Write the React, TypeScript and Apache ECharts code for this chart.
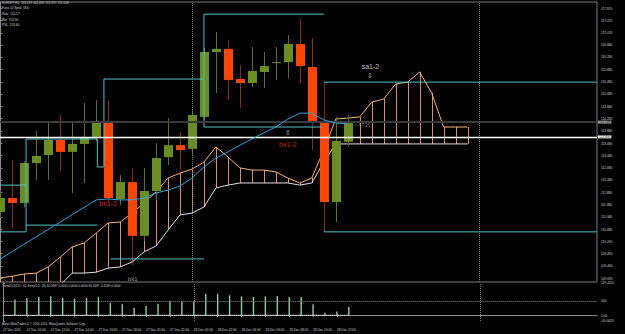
import React, { useEffect, useRef } from "react";
import * as echarts from "echarts";

// ---------- texts ----------
const HEADER_LINES = [
  "EURJPY,H1  113.529 114.409 113.372 114.168",
  "Pass 14 Sprd: 18.6",
  "Now  114.17",
  "Bbr  113.90",
  "PSL  113.60",
];
const SUB_TITLE =
  "TrendCCI(CCI: 50, EntryCCI: 26) 60.2487 0.0000 0.0000 0.0000 60.2487 -4.2099 0.0000";
const COPYRIGHT = "Alpari MetaTrader 4, © 2001-2011, MetaQuotes Software Corp.";

// ---------- axes ----------
const TIME_TICKS = [0, 2, 4, 6, 8, 10, 12, 14, 16, 18, 20, 22, 24, 26, 28];
const TIME_LABELS = [
  "27 Dec 2011", "27 Dec 10:00", "27 Dec 12:00", "27 Dec 14:00", "27 Dec 16:00",
  "27 Dec 18:00", "27 Dec 20:00", "27 Dec 22:00", "28 Dec 00:00", "28 Dec 02:00",
  "28 Dec 04:00", "28 Dec 06:00", "28 Dec 08:00", "28 Dec 10:00", "28 Dec 12:00",
];
const PRICE_TICKS = [
  117.87, 117.47, 117.07, 116.68, 116.28, 115.88, 115.48, 115.08, 114.68, 114.28,
  113.88, 113.48, 113.08, 112.68, 112.28, 111.88, 111.48, 111.08, 110.68, 110.29,
  109.89, 109.49, 109.09,
];
const CCI_TICKS = [229.411, 100, 0, -40.0023];
const CCI_TICK_LABELS = ["229.4110", "100", "0.00", "-40.0023"];

// ---------- candles (H1 bars, index 0 = 27 Dec 08:00) ----------
const OPEN = [
  111.246, 111.7, 111.54, 112.84, 113.1, 113.59, 113.2, 113.46, 113.69, 114.17,
  111.67, 112.22, 110.47, 111.93, 113.03, 113.42, 113.3, 114.34, 116.45, 116.55,
  115.57, 115.44, 115.8, 116.09, 116.12, 116.71, 115.96, 114.14, 111.57, 113.529,
];
const CLOSE = [
  111.701, 111.54, 112.84, 113.07, 113.59, 113.2, 113.46, 113.65, 114.17, 111.7,
  112.22, 110.47, 111.93, 113.0, 113.42, 113.26, 114.4, 116.45, 116.55, 115.54,
  115.44, 115.83, 115.99, 116.12, 116.71, 115.99, 114.17, 111.57, 113.56, 114.168,
];
const LOW = [
  111.05, 110.725, 111.4, 112.29, 112.29, 112.61, 111.86, 112.19, 113.55, 111.6,
  111.47, 109.59, 110.3, 111.64, 112.77, 112.61, 113.1, 114.24, 115.12, 114.89,
  114.63, 115.31, 115.28, 115.54, 115.6, 115.44, 113.26, 110.6, 110.92, 113.372,
];
const HIGH = [
  111.96, 112.94, 112.9, 113.88, 114.17, 114.4, 114.17, 114.79, 114.89, 114.89,
  112.45, 112.68, 112.68, 113.49, 114.3, 113.85, 114.56, 116.58, 117.1, 116.84,
  116.03, 116.61, 116.45, 116.61, 117.0, 117.52, 116.9, 115.47, 114.34, 114.409,
];

// ---------- indicators ----------
const MA = [
  109.72, 109.96, 110.2, 110.44, 110.68, 110.92, 111.16, 111.4, 111.64, 111.67,
  111.64, 111.64, 111.7, 111.86, 111.96, 112.09, 112.35, 112.71, 113.0, 113.2,
  113.42, 113.62, 113.82, 114.01, 114.27, 114.46, 114.46, 114.24, 114.14, 114.11,
];
const SPAN_A = [
  109.1, 109.16, 109.23, 109.26, 109.46, 109.78, 110.11, 110.24, 110.56, 110.89,
  110.92, 111.21, 111.54, 111.9, 112.35, 112.51, 112.64, 112.87, 113.36, 113.04,
  112.68, 112.61, 112.61, 112.55, 112.35, 112.19, 112.35, 113.26, 114.27, 114.3,
  114.34, 114.82, 114.92, 115.41, 115.47, 115.8, 115.12, 114.01, 114.01, 114.01,
];
const SPAN_B = [
  108.4, 108.45, 108.5, 108.6, 108.7, 108.87, 109.26, 109.26, 109.29, 109.42,
  109.46, 109.62, 109.95, 110.14, 110.66, 111.15, 111.21, 111.41, 112.03, 112.12,
  112.19, 112.19, 112.19, 112.19, 112.19, 112.12, 112.19, 112.87, 113.46, 113.46,
  113.46, 113.46, 113.46, 113.46, 113.46, 113.46, 113.46, 113.46, 113.46, 113.46,
];
// level lines: [x1, price1, x2, price2]
const LEVEL_SEGMENTS = [
  [-0.1, 112.12, 2.15, 112.12],
  [-0.1, 110.6, 2.15, 110.6],
  [2.15, 113.62, 2.15, 110.6],
  [2.15, 113.62, 8.1, 113.62],
  [2.15, 110.82, 8.1, 110.82],
  [8.1, 113.62, 8.1, 112.71],
  [8.1, 112.71, 8.65, 112.71],
  [8.65, 112.71, 8.65, 115.57],
  [8.65, 115.57, 17.0, 115.57],
  [9.2, 109.72, 17.0, 109.72],
  [17.0, 117.68, 17.0, 114.01],
  [17.0, 117.68, 27.0, 117.68],
  [17.0, 114.01, 26.8, 114.01],
  [27.0, 115.47, 49.9, 115.47],
  [27.0, 110.6, 49.9, 110.6],
];
const BID_PRICE = 114.168;
const WHITE_LEVEL = 113.69;
const DAY_BREAKS = [16, 40];

const RED_NOTES: [number, number, string][] = [
  [9.0, 111.53, "bk1-2"],
  [24.0, 113.43, "bk1-2"],
];
const WHITE_NOTES: [number, number, string][] = [
  [30.9, 115.99, "sa1-2"],
  [30.9, 115.7, "⇩"],
  [24.0, 113.82, "⇧"],
];
const GRAY_NOTES: [number, number, string][] = [
  [11.05, 109.07, "bk1"],
  [11.05, 109.59, "⇧"],
];
const TAG_NOTES: [number, number, string][] = [[29.55, 114.075, "<-57.26"]];

const CCI_HIST = [
  null, 113, 123, 130, 135, 125, 118, 123, 130, 90, 78, 52, 66, 83, 101, 97, 100,
  154, 154, 142, 135, 130, 135, 137, 130, 130, 78, 19, 28, 59,
];
const CCI_SIGNAL = [
  0, 0, 0, 0, 0, 0, 0, 0, 0, 0, 0, 0, 0, 0, 0, 0, 0, 0, 0, 0, 0, 0, 0, 0, 0, 0, 0, 0, 0, 0,
];
const CCI_LEVELS = [100, 0];

const FONT = "'Liberation Sans', Arial, sans-serif";
const SMALL = 3.2;
const TXT = "#d4d4d4";
const AXIS = "#8c8c8c";
const X_MIN = -0.025;
const X_MAX = 49.808;

function noteSeries(notes: [number, number, string][], color: string, size: number, pos: any = "inside") {
  return {
    type: "scatter",
    xAxisIndex: 0,
    yAxisIndex: 0,
    z: 8,
    symbolSize: 1,
    itemStyle: { color: "rgba(0,0,0,0)" },
    silent: true,
    data: notes.map(([x, p, t]) => ({ value: [x, p], name: t })),
    label: {
      show: true,
      position: pos,
      distance: 0,
      formatter: "{b}",
      color,
      fontSize: size,
      fontFamily: FONT,
    },
  };
}

export default function App() {
  const ref = useRef<HTMLDivElement>(null);
  useEffect(() => {
    const chart = echarts.init(ref.current!, null, { renderer: "svg" });
    const candleData = OPEN.map((o, i) => [i, o, CLOSE[i], LOW[i], HIGH[i]]);
    const option: any = {
      animation: false,
      backgroundColor: "#000",
      grid: [
        { left: 0, right: 28, top: 2, height: 280, show: true, borderColor: "#7a7a7a", borderWidth: 1, backgroundColor: "#000" },
        { left: 0, right: 28, top: 283, height: 38 },
      ],
      xAxis: [
        { gridIndex: 0, type: "value", min: X_MIN, max: X_MAX, show: false },
        {
          gridIndex: 1, type: "value", min: X_MIN, max: X_MAX, offset: 6,
          axisLine: { show: true, lineStyle: { color: AXIS } },
          axisTick: { show: true, customValues: TIME_TICKS, length: 2, lineStyle: { color: AXIS } },
          splitLine: { show: false },
          axisLabel: {
            customValues: TIME_TICKS,
            formatter: (v: number) => TIME_LABELS[TIME_TICKS.indexOf(Math.round(v))] ?? "",
            align: "left", color: TXT, fontSize: SMALL, fontFamily: FONT, margin: 1,
          },
        },
      ],
      yAxis: [
        {
          gridIndex: 0, type: "value", position: "right", min: 108.97, max: 118.075,
          axisLine: { show: true, lineStyle: { color: AXIS } },
          axisTick: { show: true, customValues: PRICE_TICKS, length: 2, lineStyle: { color: AXIS } },
          splitLine: { show: false },
          axisLabel: {
            customValues: PRICE_TICKS,
            formatter: (v: number) => v.toFixed(3),
            color: TXT, fontSize: SMALL, fontFamily: FONT, margin: 4,
          },
        },
        {
          gridIndex: 1, type: "value", position: "right", min: -40.0023, max: 229.411,
          axisLine: { show: true, lineStyle: { color: AXIS } },
          axisTick: { show: true, customValues: CCI_TICKS, length: 2, lineStyle: { color: AXIS } },
          splitLine: { show: false },
          axisLabel: {
            customValues: CCI_TICKS,
            formatter: (v: number) => {
              let best = 0;
              CCI_TICKS.forEach((t, k) => { if (Math.abs(t - v) < Math.abs(CCI_TICKS[best] - v)) best = k; });
              return CCI_TICK_LABELS[best];
            },
            color: TXT, fontSize: SMALL, fontFamily: FONT, margin: 4,
          },
        },
      ],
      graphic: [
        {
          type: "group", left: 2, top: 1,
          children: HEADER_LINES.map((t, k) => ({
            type: "text", x: 0, y: k * 5.6,
            style: { text: t, fill: TXT, fontSize: SMALL, fontFamily: FONT },
          })),
        },
        { type: "text", left: 2, top: 284, style: { text: SUB_TITLE, fill: TXT, fontSize: 3, fontFamily: FONT } },
        { type: "text", left: 2, top: 322, style: { text: COPYRIGHT, fill: TXT, fontSize: 3, fontFamily: FONT } },
      ],
      series: [
        {
          type: "custom", name: "cloud", xAxisIndex: 0, yAxisIndex: 0, z: 1, clip: true, silent: true,
          data: SPAN_A.map((a, i) => [i, a, SPAN_B[i]]),
          encode: { x: 0, y: [1, 2] },
          renderItem: (_p: any, api: any) => {
            const t = api.coord([api.value(0), api.value(1)]);
            const b = api.coord([api.value(0), api.value(2)]);
            const x = Math.round(t[0]) + 0.5;
            return { type: "line", shape: { x1: x, y1: t[1], x2: x, y2: b[1] }, style: { stroke: "#d9955e", lineWidth: 1 } };
          },
        },
        {
          type: "line", name: "spanA", xAxisIndex: 0, yAxisIndex: 0, z: 2, silent: true, symbol: "none",
          data: SPAN_A.map((v, i) => [i, v]),
          lineStyle: { color: "#f6b47c", width: 1 },
        },
        {
          type: "line", name: "spanB", xAxisIndex: 0, yAxisIndex: 0, z: 2, silent: true, symbol: "none",
          data: SPAN_B.map((v, i) => [i, v]),
          lineStyle: { color: "#eadcea", width: 1 },
        },
        {
          type: "custom", name: "candles", xAxisIndex: 0, yAxisIndex: 0, z: 3, clip: true, silent: true,
          data: candleData,
          encode: { x: 0, y: [1, 2, 3, 4] },
          renderItem: (_p: any, api: any) => {
            const i = api.value(0), o = api.value(1), c = api.value(2), l = api.value(3), h = api.value(4);
            const po = api.coord([i, o]), pc = api.coord([i, c]), pl = api.coord([i, l]), ph = api.coord([i, h]);
            const up = c >= o;
            const x = Math.round(po[0]) + 0.5;
            const top = Math.min(po[1], pc[1]);
            const hgt = Math.max(1, Math.abs(po[1] - pc[1]));
            return {
              type: "group",
              children: [
                { type: "line", shape: { x1: x, y1: ph[1], x2: x, y2: pl[1] }, style: { stroke: up ? "#56702a" : "#8a2c0e", lineWidth: 1 } },
                { type: "rect", shape: { x: x - 4.5, y: top, width: 9, height: hgt }, style: { fill: up ? "#6b8e23" : "#ff4500" } },
              ],
            };
          },
        },
        {
          type: "custom", name: "levels", xAxisIndex: 0, yAxisIndex: 0, z: 4, clip: true, silent: true,
          data: LEVEL_SEGMENTS,
          encode: { x: [0, 2], y: [1, 3] },
          renderItem: (_p: any, api: any) => {
            const a = api.coord([api.value(0), api.value(1)]);
            const b = api.coord([api.value(2), api.value(3)]);
            return { type: "line", shape: { x1: a[0], y1: a[1], x2: b[0], y2: b[1] }, style: { stroke: "#52c2c8", lineWidth: 1 } };
          },
        },
        {
          type: "line", name: "ma", xAxisIndex: 0, yAxisIndex: 0, z: 5, silent: true, symbol: "none",
          data: MA.map((v, i) => [i, v]),
          lineStyle: { color: "#35a3d6", width: 1 },
          markLine: {
            silent: true, symbol: ["none", "none"], animation: false,
            data: [
              ...DAY_BREAKS.map((d) => ({ xAxis: d, lineStyle: { color: "#777", type: "dotted", width: 1 }, label: { show: false } })),
              {
                yAxis: BID_PRICE, lineStyle: { color: "#3a3a3a", type: "solid", width: 2 },
                label: { show: true, position: "end", distance: 1, formatter: BID_PRICE.toFixed(3), color: "#000", backgroundColor: "#a8a8a8", padding: [0, 1], fontSize: SMALL, fontFamily: FONT },
              },
              {
                yAxis: WHITE_LEVEL, lineStyle: { color: "#ffffff", type: "solid", width: 1.3 },
                label: { show: true, position: "end", distance: 1, formatter: WHITE_LEVEL.toFixed(3), color: "#000", backgroundColor: "#ffffff", padding: [0, 1], fontSize: SMALL, fontFamily: FONT },
              },
            ],
          },
        },
        noteSeries(RED_NOTES, "#e8302a", 7),
        noteSeries(WHITE_NOTES, "#f0f0f0", 7),
        noteSeries(GRAY_NOTES, "#bdbdbd", 6),
        noteSeries(TAG_NOTES, "#9a9a9a", 4.5, "right"),
        {
          type: "bar", name: "cci", xAxisIndex: 1, yAxisIndex: 1, z: 2, silent: true,
          data: CCI_HIST.map((v, i) => [i, v]),
          barWidth: 1.4,
          itemStyle: { color: "#8fd0a0" },
          markLine: {
            silent: true, symbol: ["none", "none"], animation: false,
            data: [
              ...CCI_LEVELS.map((v) => ({ yAxis: v, lineStyle: { color: "#8a8a8a", type: "dotted", width: 1 }, label: { show: false } })),
              ...DAY_BREAKS.map((d) => ({ xAxis: d, lineStyle: { color: "#777", type: "dotted", width: 1 }, label: { show: false } })),
            ],
          },
        },
        {
          type: "line", name: "cciSignal", xAxisIndex: 1, yAxisIndex: 1, z: 3, silent: true, symbol: "none",
          data: CCI_SIGNAL.map((v, i) => [i, v]),
          lineStyle: { color: "#ffffff", width: 1 },
        },
      ],
    };
    chart.setOption(option);
    return () => chart.dispose();
  }, []);
  return (
    <div
      ref={ref}
      style={{ position: "fixed", left: 0, top: 0, width: 625, height: 334, background: "#000" }}
    />
  );
}
